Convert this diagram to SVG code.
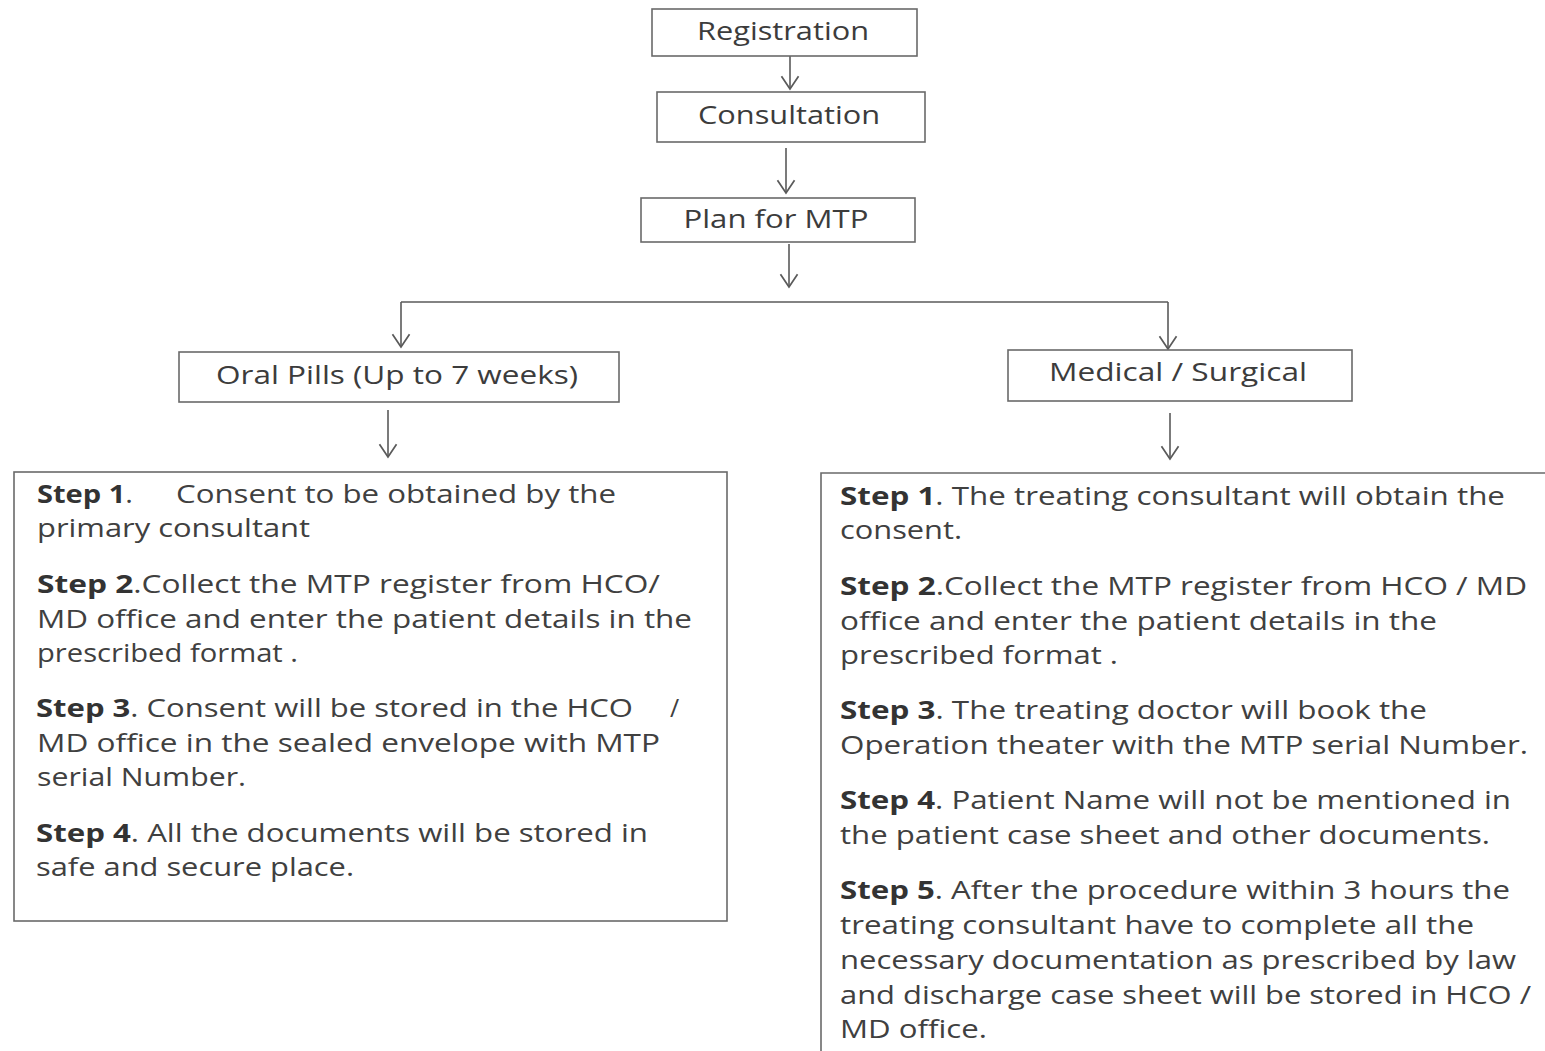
<svg xmlns="http://www.w3.org/2000/svg" width="1545" height="1051" viewBox="0 0 1545 1051">
<style>
.box{fill:#fff;stroke:#6a6a6a;stroke-width:1.6}
.lbl{font-family:"Open Sans","Liberation Sans",sans-serif;font-size:25px;fill:#3c3c3c;text-anchor:middle}
.t{font-family:"Open Sans","Liberation Sans",sans-serif;font-size:25px;fill:#404040}
.b{font-weight:bold;fill:#333}
.ln{fill:none;stroke:#5a5a5a;stroke-width:1.6}
</style>
<defs>
<marker id="ah" markerUnits="userSpaceOnUse" markerWidth="24" markerHeight="16" viewBox="-10 -13 20 15" refX="0" refY="0" orient="auto" overflow="visible">
<path d="M-12,-8 L0,0 L-12,8" fill="none" stroke="#5a5a5a" stroke-width="1.6"/>
</marker>
</defs>
<rect width="1545" height="1051" fill="#fff"/>
<g id="connectors">
<line class="ln" x1="790" y1="56" x2="790" y2="89" marker-end="url(#ah)"/>
<line class="ln" x1="786" y1="148" x2="786" y2="193" marker-end="url(#ah)"/>
<line class="ln" x1="789" y1="244" x2="789" y2="287" marker-end="url(#ah)"/>
<line class="ln" x1="401" y1="302" x2="1168" y2="302"/>
<line class="ln" x1="401" y1="302" x2="401" y2="347" marker-end="url(#ah)"/>
<line class="ln" x1="1168" y1="302" x2="1168" y2="349" marker-end="url(#ah)"/>
<line class="ln" x1="388" y1="410" x2="388" y2="457" marker-end="url(#ah)"/>
<line class="ln" x1="1170" y1="413" x2="1170" y2="459" marker-end="url(#ah)"/>
</g>
<g id="registration">
<rect class="box" x="652" y="9" width="265" height="47"/>
<text class="lbl" x="783" y="40" textLength="172" lengthAdjust="spacingAndGlyphs">Registration</text>
</g>
<g id="consultation">
<rect class="box" x="657" y="92" width="268" height="50"/>
<text class="lbl" x="789" y="124" textLength="182" lengthAdjust="spacingAndGlyphs">Consultation</text>
</g>
<g id="plan">
<rect class="box" x="641" y="198" width="274" height="44"/>
<text class="lbl" x="776" y="228" textLength="185" lengthAdjust="spacingAndGlyphs">Plan for MTP</text>
</g>
<g id="oral">
<rect class="box" x="179" y="352" width="440" height="50"/>
<text class="lbl" x="397" y="384" textLength="362" lengthAdjust="spacingAndGlyphs">Oral Pills (Up to 7 weeks)</text>
</g>
<g id="medical">
<rect class="box" x="1008" y="350" width="344" height="51"/>
<text class="lbl" x="1178" y="381" textLength="258" lengthAdjust="spacingAndGlyphs">Medical / Surgical</text>
</g>
<g id="oral-steps">
<rect class="box" x="14" y="472" width="713" height="449"/>
<text class="t" x="37" y="503" textLength="96" lengthAdjust="spacingAndGlyphs"><tspan class="b">Step 1</tspan>.</text>
<text class="t" x="176" y="503" textLength="440" lengthAdjust="spacingAndGlyphs">Consent to be obtained by the</text>
<text class="t" x="37" y="537" textLength="273" lengthAdjust="spacingAndGlyphs">primary consultant</text>
<text class="t" x="37" y="593" textLength="623" lengthAdjust="spacingAndGlyphs"><tspan class="b">Step 2</tspan>.Collect the MTP register from HCO/</text>
<text class="t" x="37" y="628" textLength="655" lengthAdjust="spacingAndGlyphs">MD office and enter the patient details in the</text>
<text class="t" x="37" y="662" textLength="261" lengthAdjust="spacingAndGlyphs">prescribed format .</text>
<text class="t" x="36" y="717" textLength="597" lengthAdjust="spacingAndGlyphs"><tspan class="b">Step 3</tspan>. Consent will be stored in the HCO</text>
<text class="t" x="670" y="717">/</text>
<text class="t" x="37" y="752" textLength="623" lengthAdjust="spacingAndGlyphs">MD office in the sealed envelope with MTP</text>
<text class="t" x="37" y="786" textLength="209" lengthAdjust="spacingAndGlyphs">serial Number.</text>
<text class="t" x="36" y="842" textLength="612" lengthAdjust="spacingAndGlyphs"><tspan class="b">Step 4</tspan>. All the documents will be stored in</text>
<text class="t" x="36" y="876" textLength="318" lengthAdjust="spacingAndGlyphs">safe and secure place.</text>
</g>
<g id="medical-steps">
<path class="box" d="M821,1051 L821,473 L1545,473"/>
<text class="t" x="840" y="505" textLength="665" lengthAdjust="spacingAndGlyphs"><tspan class="b">Step 1</tspan>. The treating consultant will obtain the</text>
<text class="t" x="840" y="539" textLength="122" lengthAdjust="spacingAndGlyphs">consent.</text>
<text class="t" x="840" y="595" textLength="687" lengthAdjust="spacingAndGlyphs"><tspan class="b">Step 2</tspan>.Collect the MTP register from HCO / MD</text>
<text class="t" x="840" y="630" textLength="597" lengthAdjust="spacingAndGlyphs">office and enter the patient details in the</text>
<text class="t" x="840" y="664" textLength="278" lengthAdjust="spacingAndGlyphs">prescribed format .</text>
<text class="t" x="840" y="719" textLength="587" lengthAdjust="spacingAndGlyphs"><tspan class="b">Step 3</tspan>. The treating doctor will book the</text>
<text class="t" x="840" y="754" textLength="688" lengthAdjust="spacingAndGlyphs">Operation theater with the MTP serial Number.</text>
<text class="t" x="840" y="809" textLength="671" lengthAdjust="spacingAndGlyphs"><tspan class="b">Step 4</tspan>. Patient Name will not be mentioned in</text>
<text class="t" x="840" y="844" textLength="650" lengthAdjust="spacingAndGlyphs">the patient case sheet and other documents.</text>
<text class="t" x="840" y="899" textLength="670" lengthAdjust="spacingAndGlyphs"><tspan class="b">Step 5</tspan>. After the procedure within 3 hours the</text>
<text class="t" x="840" y="934" textLength="634" lengthAdjust="spacingAndGlyphs">treating consultant have to complete all the</text>
<text class="t" x="840" y="969" textLength="676" lengthAdjust="spacingAndGlyphs">necessary documentation as prescribed by law</text>
<text class="t" x="840" y="1004" textLength="691" lengthAdjust="spacingAndGlyphs">and discharge case sheet will be stored in HCO /</text>
<text class="t" x="840" y="1038" textLength="147" lengthAdjust="spacingAndGlyphs">MD office.</text>
</g>
</svg>
